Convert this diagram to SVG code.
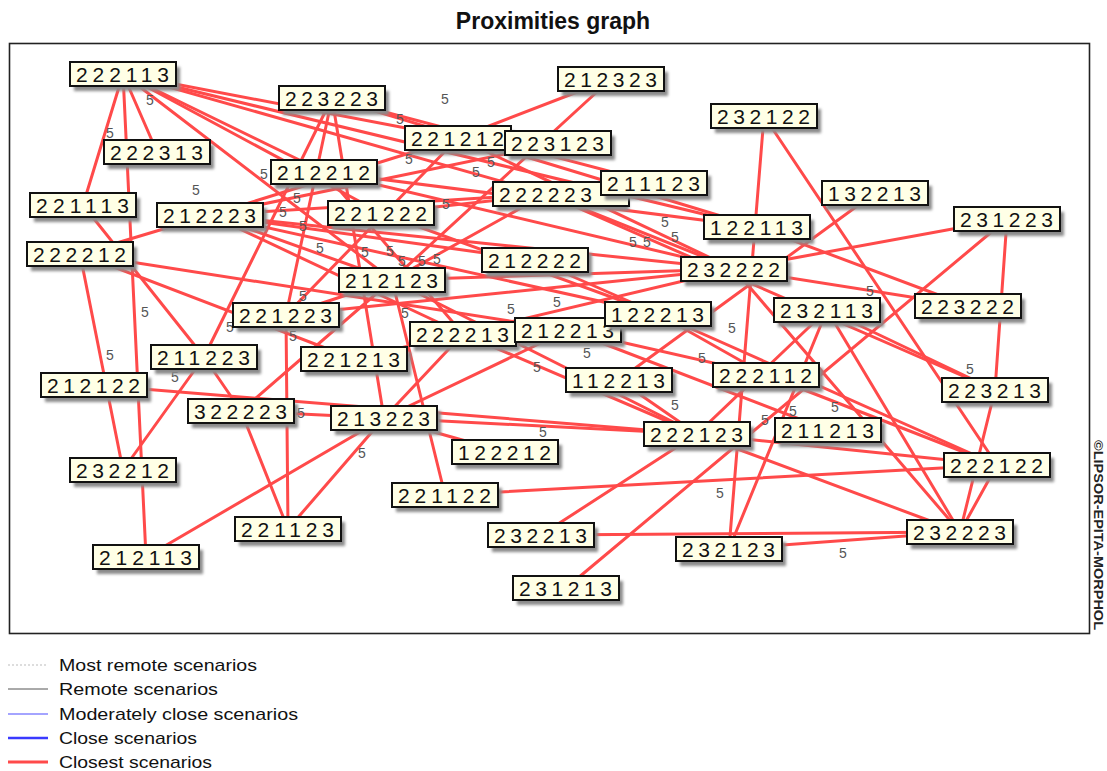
<svg xmlns="http://www.w3.org/2000/svg" width="1107" height="771" viewBox="0 0 1107 771">
<defs>
<filter id="sh" x="-20%" y="-40%" width="140%" height="180%"><feGaussianBlur stdDeviation="1.6"/></filter>
<style>
.e line{stroke:#ff4a4a;stroke-width:3;stroke-linecap:round}
.bx{fill:#ffffe6;stroke:#111;stroke-width:2}
.sd{fill:#8a8a8a;filter:url(#sh)}
.t{font-family:"Liberation Sans",Arial,sans-serif;font-size:21px;fill:#111}
.f{font-family:"Liberation Sans",Arial,sans-serif;font-size:14px;fill:#555}
.lg{font-family:"Liberation Sans",Arial,sans-serif;font-size:17px;fill:#111}
</style>
</defs>
<rect width="1107" height="771" fill="#fff"/>
<text x="553" y="29" text-anchor="middle" font-family="Liberation Sans,Arial,sans-serif" font-weight="bold" font-size="23" fill="#111">Proximities graph</text>
<rect x="9.5" y="43.5" width="1080" height="590" fill="none" stroke="#222" stroke-width="1.6"/>
<text transform="translate(1094,440) rotate(90)" font-family="Liberation Sans,Arial,sans-serif" font-weight="bold" font-size="13" fill="#222" textLength="190" lengthAdjust="spacingAndGlyphs">©LIPSOR-EPITA-MORPHOL</text>
<g id="connectors" class="e">
<line x1="123" y1="74" x2="157" y2="152"/>
<line x1="123" y1="74" x2="83" y2="205"/>
<line x1="123" y1="74" x2="146" y2="557"/>
<line x1="123" y1="74" x2="458" y2="138"/>
<line x1="123" y1="74" x2="546" y2="194"/>
<line x1="123" y1="74" x2="757" y2="227"/>
<line x1="123" y1="74" x2="324" y2="172"/>
<line x1="123" y1="74" x2="392" y2="280"/>
<line x1="123" y1="74" x2="381" y2="213"/>
<line x1="83" y1="205" x2="204" y2="357"/>
<line x1="80" y1="254" x2="123" y2="470"/>
<line x1="80" y1="254" x2="568" y2="330"/>
<line x1="80" y1="254" x2="354" y2="359"/>
<line x1="80" y1="254" x2="210" y2="215"/>
<line x1="210" y1="215" x2="458" y2="138"/>
<line x1="210" y1="215" x2="546" y2="194"/>
<line x1="210" y1="215" x2="535" y2="260"/>
<line x1="210" y1="215" x2="392" y2="280"/>
<line x1="210" y1="215" x2="463" y2="334"/>
<line x1="210" y1="215" x2="734" y2="269"/>
<line x1="210" y1="215" x2="558" y2="143"/>
<line x1="210" y1="215" x2="658" y2="314"/>
<line x1="332" y1="98" x2="757" y2="227"/>
<line x1="332" y1="98" x2="654" y2="183"/>
<line x1="332" y1="98" x2="384" y2="418"/>
<line x1="332" y1="98" x2="286" y2="315"/>
<line x1="332" y1="98" x2="204" y2="357"/>
<line x1="458" y1="138" x2="611" y2="79"/>
<line x1="458" y1="138" x2="286" y2="315"/>
<line x1="458" y1="138" x2="734" y2="269"/>
<line x1="611" y1="79" x2="392" y2="280"/>
<line x1="324" y1="172" x2="757" y2="227"/>
<line x1="324" y1="172" x2="734" y2="269"/>
<line x1="324" y1="172" x2="463" y2="334"/>
<line x1="381" y1="213" x2="658" y2="314"/>
<line x1="546" y1="194" x2="392" y2="280"/>
<line x1="546" y1="194" x2="995" y2="390"/>
<line x1="546" y1="194" x2="734" y2="269"/>
<line x1="654" y1="183" x2="381" y2="213"/>
<line x1="764" y1="116" x2="729" y2="549"/>
<line x1="764" y1="116" x2="997" y2="465"/>
<line x1="875" y1="193" x2="619" y2="380"/>
<line x1="1007" y1="219" x2="734" y2="269"/>
<line x1="1007" y1="219" x2="566" y2="588"/>
<line x1="1007" y1="219" x2="995" y2="390"/>
<line x1="535" y1="260" x2="658" y2="314"/>
<line x1="392" y1="280" x2="734" y2="269"/>
<line x1="392" y1="280" x2="445" y2="495"/>
<line x1="392" y1="280" x2="697" y2="434"/>
<line x1="286" y1="315" x2="392" y2="280"/>
<line x1="392" y1="280" x2="241" y2="411"/>
<line x1="734" y1="269" x2="960" y2="532"/>
<line x1="734" y1="269" x2="968" y2="306"/>
<line x1="286" y1="315" x2="734" y2="269"/>
<line x1="286" y1="315" x2="288" y2="529"/>
<line x1="463" y1="334" x2="384" y2="418"/>
<line x1="463" y1="334" x2="697" y2="434"/>
<line x1="568" y1="330" x2="384" y2="418"/>
<line x1="568" y1="330" x2="766" y2="375"/>
<line x1="658" y1="314" x2="766" y2="375"/>
<line x1="658" y1="314" x2="997" y2="465"/>
<line x1="827" y1="310" x2="960" y2="532"/>
<line x1="827" y1="310" x2="729" y2="549"/>
<line x1="827" y1="310" x2="697" y2="434"/>
<line x1="827" y1="310" x2="995" y2="390"/>
<line x1="757" y1="227" x2="968" y2="306"/>
<line x1="204" y1="357" x2="241" y2="411"/>
<line x1="204" y1="357" x2="123" y2="470"/>
<line x1="94" y1="385" x2="697" y2="434"/>
<line x1="354" y1="359" x2="734" y2="269"/>
<line x1="241" y1="411" x2="288" y2="529"/>
<line x1="241" y1="411" x2="384" y2="418"/>
<line x1="619" y1="380" x2="697" y2="434"/>
<line x1="766" y1="375" x2="997" y2="465"/>
<line x1="995" y1="390" x2="960" y2="532"/>
<line x1="384" y1="418" x2="697" y2="434"/>
<line x1="384" y1="418" x2="505" y2="452"/>
<line x1="384" y1="418" x2="288" y2="529"/>
<line x1="384" y1="418" x2="146" y2="557"/>
<line x1="697" y1="434" x2="960" y2="532"/>
<line x1="697" y1="434" x2="997" y2="465"/>
<line x1="697" y1="434" x2="541" y2="535"/>
<line x1="445" y1="495" x2="997" y2="465"/>
<line x1="997" y1="465" x2="960" y2="532"/>
<line x1="541" y1="535" x2="960" y2="532"/>
<line x1="729" y1="549" x2="960" y2="532"/>
<line x1="568" y1="330" x2="828" y2="430"/>
</g>
<g id="weights" class="f">
<text x="146" y="105">5</text><text x="106" y="138">5</text><text x="192" y="195">5</text><text x="260" y="179">5</text>
<text x="441" y="104">5</text><text x="396" y="124">5</text><text x="405" y="164">5</text><text x="472" y="177">5</text><text x="487" y="167">5</text>
<text x="442" y="209">5</text><text x="293" y="203">5</text><text x="279" y="217">5</text><text x="299" y="231">5</text>
<text x="316" y="253">5</text><text x="361" y="257">5</text><text x="386" y="256">5</text><text x="398" y="266">5</text><text x="418" y="266">5</text><text x="433" y="264">5</text>
<text x="299" y="301">5</text><text x="289" y="341">5</text><text x="401" y="318">5</text><text x="507" y="314">5</text><text x="553" y="307">5</text><text x="533" y="372">5</text>
<text x="539" y="437">5</text><text x="728" y="333">5</text><text x="698" y="363">5</text><text x="583" y="358">5</text><text x="671" y="410">5</text><text x="761" y="425">5</text><text x="789" y="416">5</text>
<text x="661" y="227">5</text><text x="671" y="242">5</text><text x="629" y="247">5</text><text x="643" y="247">5</text>
<text x="866" y="296">5</text><text x="966" y="374">5</text><text x="831" y="412">5</text>
<text x="141" y="317">5</text><text x="106" y="360">5</text><text x="171" y="382">5</text><text x="226" y="332">5</text><text x="297" y="418">5</text>
<text x="358" y="458">5</text><text x="716" y="498">5</text><text x="839" y="558">5</text>
</g>
<g id="n-222113"><rect class="sd" x="74" y="67" width="106" height="24"/><rect class="bx" x="70" y="62" width="106" height="24"/><text class="t" x="76" y="81.5" textLength="93" lengthAdjust="spacing">222113</text></g>
<g id="n-222313"><rect class="sd" x="108" y="145" width="106" height="24"/><rect class="bx" x="104" y="140" width="106" height="24"/><text class="t" x="110" y="159.5" textLength="93" lengthAdjust="spacing">222313</text></g>
<g id="n-221113"><rect class="sd" x="34" y="198" width="106" height="24"/><rect class="bx" x="30" y="193" width="106" height="24"/><text class="t" x="36" y="212.5" textLength="93" lengthAdjust="spacing">221113</text></g>
<g id="n-212223"><rect class="sd" x="161" y="208" width="106" height="24"/><rect class="bx" x="157" y="203" width="106" height="24"/><text class="t" x="163" y="222.5" textLength="93" lengthAdjust="spacing">212223</text></g>
<g id="n-222212"><rect class="sd" x="31" y="247" width="106" height="24"/><rect class="bx" x="27" y="242" width="106" height="24"/><text class="t" x="33" y="261.5" textLength="93" lengthAdjust="spacing">222212</text></g>
<g id="n-223223"><rect class="sd" x="283" y="91" width="106" height="24"/><rect class="bx" x="279" y="86" width="106" height="24"/><text class="t" x="285" y="105.5" textLength="93" lengthAdjust="spacing">223223</text></g>
<g id="n-221212"><rect class="sd" x="409" y="131" width="106" height="24"/><rect class="bx" x="405" y="126" width="106" height="24"/><text class="t" x="411" y="145.5" textLength="93" lengthAdjust="spacing">221212</text></g>
<g id="n-223123"><rect class="sd" x="509" y="136" width="106" height="24"/><rect class="bx" x="505" y="131" width="106" height="24"/><text class="t" x="511" y="150.5" textLength="93" lengthAdjust="spacing">223123</text></g>
<g id="n-212212"><rect class="sd" x="275" y="165" width="106" height="24"/><rect class="bx" x="271" y="160" width="106" height="24"/><text class="t" x="277" y="179.5" textLength="93" lengthAdjust="spacing">212212</text></g>
<g id="n-221222"><rect class="sd" x="332" y="206" width="106" height="24"/><rect class="bx" x="328" y="201" width="106" height="24"/><text class="t" x="334" y="220.5" textLength="93" lengthAdjust="spacing">221222</text></g>
<g id="n-222223"><rect class="sd" x="497" y="187" width="132" height="24"/><rect class="bx" x="493" y="182" width="136" height="24"/><text class="t" x="499" y="201.5" textLength="93" lengthAdjust="spacing">222223</text></g>
<g id="n-211123"><rect class="sd" x="605" y="176" width="106" height="24"/><rect class="bx" x="601" y="171" width="106" height="24"/><text class="t" x="607" y="190.5" textLength="93" lengthAdjust="spacing">211123</text></g>
<g id="n-212323"><rect class="sd" x="562" y="72" width="106" height="24"/><rect class="bx" x="558" y="67" width="106" height="24"/><text class="t" x="564" y="86.5" textLength="93" lengthAdjust="spacing">212323</text></g>
<g id="n-232122"><rect class="sd" x="715" y="109" width="106" height="24"/><rect class="bx" x="711" y="104" width="106" height="24"/><text class="t" x="717" y="123.5" textLength="93" lengthAdjust="spacing">232122</text></g>
<g id="n-122113"><rect class="sd" x="708" y="220" width="106" height="24"/><rect class="bx" x="704" y="215" width="106" height="24"/><text class="t" x="710" y="234.5" textLength="93" lengthAdjust="spacing">122113</text></g>
<g id="n-132213"><rect class="sd" x="826" y="186" width="106" height="24"/><rect class="bx" x="822" y="181" width="106" height="24"/><text class="t" x="828" y="200.5" textLength="93" lengthAdjust="spacing">132213</text></g>
<g id="n-231223"><rect class="sd" x="958" y="212" width="106" height="24"/><rect class="bx" x="954" y="207" width="106" height="24"/><text class="t" x="960" y="226.5" textLength="93" lengthAdjust="spacing">231223</text></g>
<g id="n-212222"><rect class="sd" x="486" y="253" width="106" height="24"/><rect class="bx" x="482" y="248" width="106" height="24"/><text class="t" x="488" y="267.5" textLength="93" lengthAdjust="spacing">212222</text></g>
<g id="n-212123"><rect class="sd" x="343" y="273" width="106" height="24"/><rect class="bx" x="339" y="268" width="106" height="24"/><text class="t" x="345" y="287.5" textLength="93" lengthAdjust="spacing">212123</text></g>
<g id="n-232222"><rect class="sd" x="685" y="262" width="106" height="24"/><rect class="bx" x="681" y="257" width="106" height="24"/><text class="t" x="687" y="276.5" textLength="93" lengthAdjust="spacing">232222</text></g>
<g id="n-221223"><rect class="sd" x="237" y="308" width="106" height="24"/><rect class="bx" x="233" y="303" width="106" height="24"/><text class="t" x="239" y="322.5" textLength="93" lengthAdjust="spacing">221223</text></g>
<g id="n-222213"><rect class="sd" x="414" y="327" width="106" height="24"/><rect class="bx" x="410" y="322" width="106" height="24"/><text class="t" x="416" y="341.5" textLength="93" lengthAdjust="spacing">222213</text></g>
<g id="n-212213"><rect class="sd" x="519" y="323" width="106" height="24"/><rect class="bx" x="515" y="318" width="106" height="24"/><text class="t" x="521" y="337.5" textLength="93" lengthAdjust="spacing">212213</text></g>
<g id="n-122213"><rect class="sd" x="609" y="307" width="106" height="24"/><rect class="bx" x="605" y="302" width="106" height="24"/><text class="t" x="611" y="321.5" textLength="93" lengthAdjust="spacing">122213</text></g>
<g id="n-232113"><rect class="sd" x="778" y="303" width="106" height="24"/><rect class="bx" x="774" y="298" width="106" height="24"/><text class="t" x="780" y="317.5" textLength="93" lengthAdjust="spacing">232113</text></g>
<g id="n-223222"><rect class="sd" x="919" y="299" width="106" height="24"/><rect class="bx" x="915" y="294" width="106" height="24"/><text class="t" x="921" y="313.5" textLength="93" lengthAdjust="spacing">223222</text></g>
<g id="n-211223"><rect class="sd" x="155" y="350" width="106" height="24"/><rect class="bx" x="151" y="345" width="106" height="24"/><text class="t" x="157" y="364.5" textLength="93" lengthAdjust="spacing">211223</text></g>
<g id="n-212122"><rect class="sd" x="45" y="378" width="106" height="24"/><rect class="bx" x="41" y="373" width="106" height="24"/><text class="t" x="47" y="392.5" textLength="93" lengthAdjust="spacing">212122</text></g>
<g id="n-221213"><rect class="sd" x="305" y="352" width="106" height="24"/><rect class="bx" x="301" y="347" width="106" height="24"/><text class="t" x="307" y="366.5" textLength="93" lengthAdjust="spacing">221213</text></g>
<g id="n-322223"><rect class="sd" x="192" y="404" width="106" height="24"/><rect class="bx" x="188" y="399" width="106" height="24"/><text class="t" x="194" y="418.5" textLength="93" lengthAdjust="spacing">322223</text></g>
<g id="n-112213"><rect class="sd" x="570" y="373" width="106" height="24"/><rect class="bx" x="566" y="368" width="106" height="24"/><text class="t" x="572" y="387.5" textLength="93" lengthAdjust="spacing">112213</text></g>
<g id="n-222112"><rect class="sd" x="717" y="368" width="106" height="24"/><rect class="bx" x="713" y="363" width="106" height="24"/><text class="t" x="719" y="382.5" textLength="93" lengthAdjust="spacing">222112</text></g>
<g id="n-223213"><rect class="sd" x="946" y="383" width="106" height="24"/><rect class="bx" x="942" y="378" width="106" height="24"/><text class="t" x="948" y="397.5" textLength="93" lengthAdjust="spacing">223213</text></g>
<g id="n-213223"><rect class="sd" x="335" y="411" width="106" height="24"/><rect class="bx" x="331" y="406" width="106" height="24"/><text class="t" x="337" y="425.5" textLength="93" lengthAdjust="spacing">213223</text></g>
<g id="n-211213"><rect class="sd" x="779" y="423" width="106" height="24"/><rect class="bx" x="775" y="418" width="106" height="24"/><text class="t" x="781" y="437.5" textLength="93" lengthAdjust="spacing">211213</text></g>
<g id="n-222123"><rect class="sd" x="648" y="427" width="106" height="24"/><rect class="bx" x="644" y="422" width="106" height="24"/><text class="t" x="650" y="441.5" textLength="93" lengthAdjust="spacing">222123</text></g>
<g id="n-122212"><rect class="sd" x="456" y="445" width="106" height="24"/><rect class="bx" x="452" y="440" width="106" height="24"/><text class="t" x="458" y="459.5" textLength="93" lengthAdjust="spacing">122212</text></g>
<g id="n-232212"><rect class="sd" x="74" y="463" width="106" height="24"/><rect class="bx" x="70" y="458" width="106" height="24"/><text class="t" x="76" y="477.5" textLength="93" lengthAdjust="spacing">232212</text></g>
<g id="n-222122"><rect class="sd" x="948" y="458" width="106" height="24"/><rect class="bx" x="944" y="453" width="106" height="24"/><text class="t" x="950" y="472.5" textLength="93" lengthAdjust="spacing">222122</text></g>
<g id="n-221122"><rect class="sd" x="396" y="488" width="106" height="24"/><rect class="bx" x="392" y="483" width="106" height="24"/><text class="t" x="398" y="502.5" textLength="93" lengthAdjust="spacing">221122</text></g>
<g id="n-221123"><rect class="sd" x="239" y="522" width="106" height="24"/><rect class="bx" x="235" y="517" width="106" height="24"/><text class="t" x="241" y="536.5" textLength="93" lengthAdjust="spacing">221123</text></g>
<g id="n-212113"><rect class="sd" x="97" y="550" width="106" height="24"/><rect class="bx" x="93" y="545" width="106" height="24"/><text class="t" x="99" y="564.5" textLength="93" lengthAdjust="spacing">212113</text></g>
<g id="n-232213"><rect class="sd" x="492" y="528" width="106" height="24"/><rect class="bx" x="488" y="523" width="106" height="24"/><text class="t" x="494" y="542.5" textLength="93" lengthAdjust="spacing">232213</text></g>
<g id="n-232123"><rect class="sd" x="680" y="542" width="106" height="24"/><rect class="bx" x="676" y="537" width="106" height="24"/><text class="t" x="682" y="556.5" textLength="93" lengthAdjust="spacing">232123</text></g>
<g id="n-231213"><rect class="sd" x="517" y="581" width="106" height="24"/><rect class="bx" x="513" y="576" width="106" height="24"/><text class="t" x="519" y="595.5" textLength="93" lengthAdjust="spacing">231213</text></g>
<g id="n-232223"><rect class="sd" x="911" y="525" width="106" height="24"/><rect class="bx" x="907" y="520" width="106" height="24"/><text class="t" x="913" y="539.5" textLength="93" lengthAdjust="spacing">232223</text></g>
<g id="legend">
<line x1="8" y1="665" x2="48" y2="665" stroke="#bbb" stroke-width="1" stroke-dasharray="2,2"/>
<text class="lg" x="59" y="671" textLength="198" lengthAdjust="spacingAndGlyphs">Most remote scenarios</text>
<line x1="8" y1="689" x2="48" y2="689" stroke="#555" stroke-width="1"/>
<text class="lg" x="59" y="695" textLength="159" lengthAdjust="spacingAndGlyphs">Remote scenarios</text>
<line x1="8" y1="714" x2="48" y2="714" stroke="#4a4aff" stroke-width="1.2"/>
<text class="lg" x="59" y="720" textLength="239" lengthAdjust="spacingAndGlyphs">Moderately close scenarios</text>
<line x1="8" y1="738" x2="48" y2="738" stroke="#3a3aff" stroke-width="2.5"/>
<text class="lg" x="59" y="744" textLength="138" lengthAdjust="spacingAndGlyphs">Close scenarios</text>
<line x1="8" y1="762" x2="48" y2="762" stroke="#ff4a4a" stroke-width="3"/>
<text class="lg" x="59" y="768" textLength="153" lengthAdjust="spacingAndGlyphs">Closest scenarios</text>
</g>
</svg>
